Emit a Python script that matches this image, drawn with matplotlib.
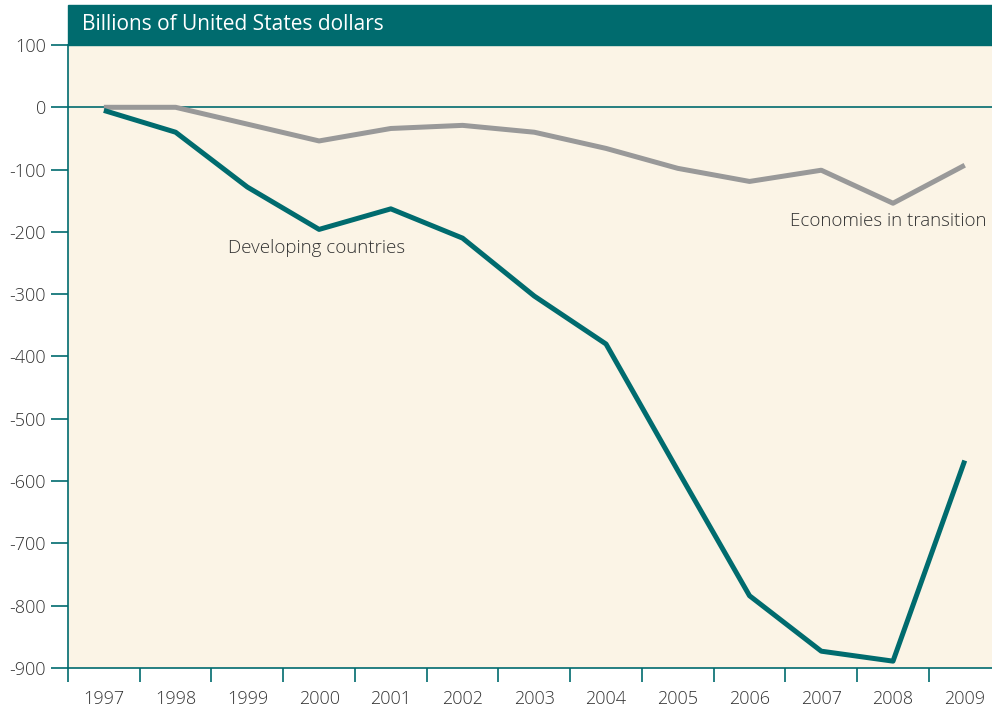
import matplotlib.pyplot as plt
import numpy as np
from matplotlib.patches import Rectangle

plt.rcParams['font.family'] = ['Open Sans', 'DejaVu Sans']
plt.rcParams['font.weight'] = 'light'

years = ['1997', '1998', '1999', '2000', '2001', '2002', '2003', '2004',
         '2005', '2006', '2007', '2008', '2009']
developing = [-5, -40, -128, -196, -163, -210, -303, -380, -583, -784, -873, -889, -567]
transition = [0, 0, -27, -54, -34, -29, -40, -66, -98, -119, -101, -154, -93]

teal = '#006b6e'
grey = '#999999'
bg = '#fbf4e6'
txt = '#333333'

fig = plt.figure(figsize=(9.92, 7.10), dpi=100)
ax = fig.add_axes([68 / 992, 1 - 668 / 710, 1 - 68 / 992, (668 - 45) / 710])
ax.set_facecolor(bg)

x = np.arange(len(years))
ax.plot(x, transition, color=grey, lw=3.6, solid_capstyle='butt', zorder=3)
ax.plot(x, developing, color=teal, lw=3.6, solid_capstyle='butt', zorder=4)
ax.axhline(0, color=teal, lw=1.2, zorder=2)

ax.set_xlim(-0.5, 12.38)
ax.set_ylim(-900, 100)
ax.set_yticks(np.arange(-900, 101, 100))
ax.set_yticklabels([str(v) for v in range(-900, 101, 100)])
ax.set_xticks(x)
ax.set_xticklabels(years)
ax.set_xticks(np.arange(-0.5, 12, 1), minor=True)
ax.tick_params(axis='x', which='major', length=0, pad=16, labelsize=13, colors=txt)
ax.tick_params(axis='x', which='minor', length=10, width=1.2, color=teal)
ax.tick_params(axis='y', length=12, width=1.2, color=teal, labelsize=13,
               labelcolor=txt, pad=4)

for s in ['top', 'right']:
    ax.spines[s].set_visible(False)
for s in ['left', 'bottom']:
    ax.spines[s].set_color(teal)
    ax.spines[s].set_linewidth(1.2)

ax.text(1.73, -226, 'Developing countries', fontsize=13.5, color=txt, va='center', ha='left')
ax.text(9.57, -182, 'Economies in transition', fontsize=13.5, color=txt, va='center', ha='left')

# title bar
fig.patches.append(Rectangle((68 / 992, 1 - 45 / 710), 1 - 68 / 992, 40 / 710,
                             transform=fig.transFigure, color=teal, zorder=1))
fig.text(82 / 992, 1 - 25 / 710, 'Billions of United States dollars', color='white',
         fontsize=15, fontweight='normal', va='center', ha='left')

fig.savefig('out.png', dpi=100, facecolor='white')
